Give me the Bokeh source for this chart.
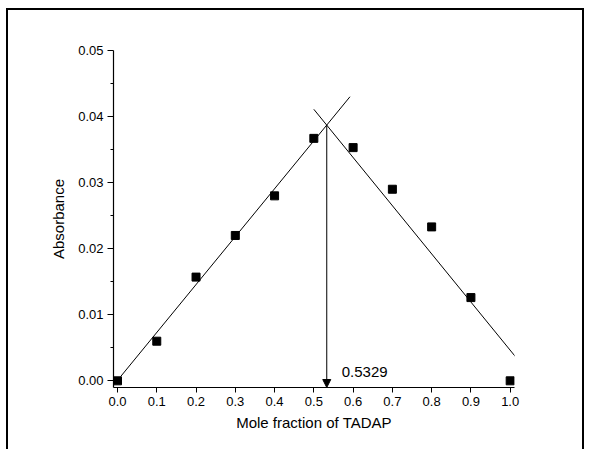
import numpy as np
from bokeh.plotting import figure
from bokeh.models import FixedTicker, Range1d, Arrow, NormalHead, Label, NumeralTickFormatter
from bokeh.embed import file_html
from bokeh.resources import INLINE

# ---- data ----
mole_fraction = [0.0, 0.1, 0.2, 0.3, 0.4, 0.5, 0.6, 0.7, 0.8, 0.9, 1.0]
absorbance = [0.0, 0.0060, 0.0157, 0.0220, 0.0280, 0.0367, 0.0353, 0.0290, 0.0233, 0.0126, 0.0]

fit_left_x = [0.008, 0.592]
fit_left_y = [0.00065, 0.0430]
fit_right_x = [0.500, 1.021]
fit_right_y = [0.0411, 0.0031]

x_stoich = 0.5329
x_stoich_label = "0.5329"

x_ticks = [0.0, 0.1, 0.2, 0.3, 0.4, 0.5, 0.6, 0.7, 0.8, 0.9, 1.0]
y_ticks = [0.00, 0.01, 0.02, 0.03, 0.04, 0.05]
y_minor_ticks = [0.005, 0.015, 0.025, 0.035, 0.045]

FONT = "Liberation Sans"

W, H = 578, 441
ML, MR, MT, MB = 105, 72, 40, 64

p = figure(
    width=W, height=H,
    output_backend="svg", toolbar_location=None,
    x_range=Range1d(-0.0102, 1.011), y_range=Range1d(-0.00101, 0.05),
    min_border_left=ML, min_border_right=MR, min_border_top=MT, min_border_bottom=MB,
    x_axis_label="Mole fraction of TADAP", y_axis_label="Absorbance",
)
# page frame, open at the bottom
p.styles = {"border-top": "2px solid black", "border-left": "2px solid black",
            "border-right": "2px solid black", "transform": "translate(6px, 8px)"}
p.outline_line_color = None
p.grid.visible = False
p.background_fill_color = "white"
p.border_fill_color = "white"

# axes
p.xaxis.ticker = FixedTicker(ticks=x_ticks, minor_ticks=[])
p.yaxis.ticker = FixedTicker(ticks=y_ticks, minor_ticks=y_minor_ticks)
p.xaxis.formatter = NumeralTickFormatter(format="0.0")
p.yaxis.formatter = NumeralTickFormatter(format="0.00")
for ax in (p.xaxis, p.yaxis):
    ax.axis_line_color = "black"
    ax.axis_line_width = 1.2
    ax.major_tick_line_color = "black"
    ax.minor_tick_line_color = "black"
    ax.major_tick_in = 0
    ax.minor_tick_in = 0
    ax.major_label_text_font = FONT
    ax.major_label_text_font_size = "13px"
    ax.major_label_text_color = "black"
    ax.axis_label_text_font = FONT
    ax.axis_label_text_font_size = "15px"
    ax.axis_label_text_font_style = "normal"
    ax.axis_label_text_color = "black"
p.yaxis.major_tick_out = 6
p.yaxis.minor_tick_out = 3
p.xaxis.major_tick_out = 5
p.yaxis.major_label_standoff = 4
p.xaxis.major_label_standoff = 4
p.xaxis.axis_label_standoff = 5
p.yaxis.axis_label_standoff = 8

# fit lines
p.line(fit_left_x, fit_left_y, line_color="black", line_width=1)
p.line(fit_right_x, fit_right_y, line_color="black", line_width=1)

# data points
p.scatter(mole_fraction, absorbance, marker="square", size=8,
          fill_color="black", line_color="black")

# arrow from intersection down to x axis
y_cross = float(np.interp(x_stoich, fit_left_x, fit_left_y))
p.add_layout(Arrow(end=NormalHead(size=8, fill_color="black", line_color="black"),
                   x_start=x_stoich, y_start=y_cross,
                   x_end=x_stoich, y_end=p.y_range.start,
                   line_color="black", line_width=1))

p.add_layout(Label(x=x_stoich + 0.038, y=0.0014, text=x_stoich_label,
                   text_font=FONT, text_font_size="15px", text_color="black",
                   text_baseline="middle", text_align="left"))

open("out.html", "w").write(file_html(p, INLINE))
